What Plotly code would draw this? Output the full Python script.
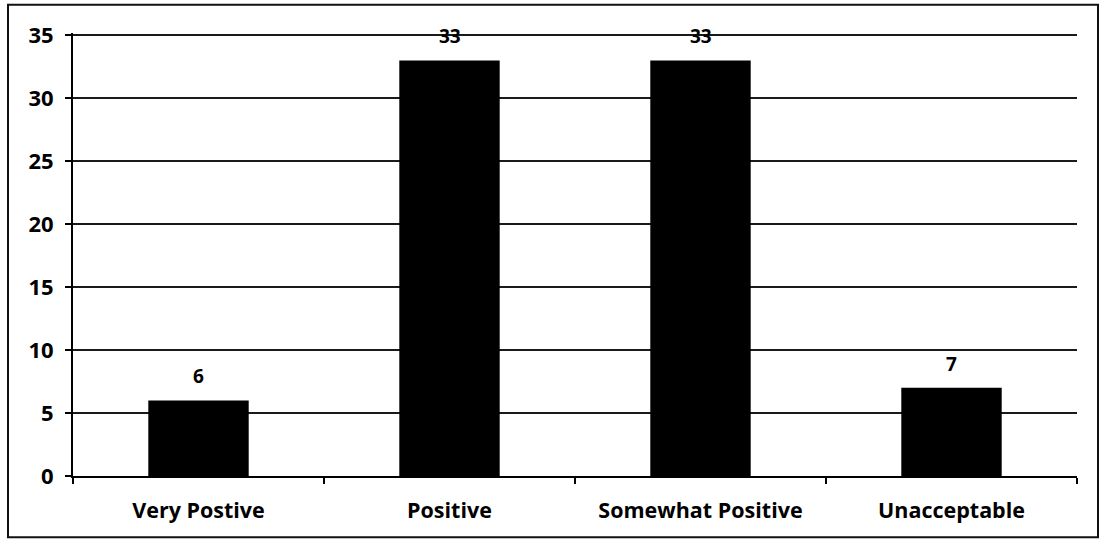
import plotly.graph_objects as go

# Survey responses per rating category
categories = ["Very Postive", "Positive", "Somewhat Positive", "Unacceptable"]
counts = [6, 33, 33, 7]
y_ticks = [0, 5, 10, 15, 20, 25, 30, 35]

FONT = "'Open Sans', Lato, sans-serif"

fig = go.Figure(
    go.Bar(
        x=categories,
        y=counts,
        marker=dict(color="#000000", line=dict(width=0)),
        showlegend=False,
        hoverinfo="x+y",
    )
)

# Value labels above each bar
for cat, val in zip(categories, counts):
    fig.add_annotation(
        x=cat, y=val, xref="x", yref="y",
        text=f"<b>{val}</b>", showarrow=False,
        yshift=24, font=dict(family=FONT, size=19, color="#000000"),
    )

# Outer chart frame
fig.add_shape(
    type="rect", xref="paper", yref="paper",
    x0=(8 - 73) / 1004, x1=(1098 - 73) / 1004,
    y0=(476 - 537) / 441, y1=(476 - 7) / 441,
    line=dict(color="#111111", width=2), fillcolor="rgba(0,0,0,0)",
    layer="below",
)

fig.update_layout(
    width=1108, height=543,
    margin=dict(l=73, r=31, t=33, b=67),
    paper_bgcolor="#ffffff", plot_bgcolor="#ffffff",
    bargap=0.6,
    font=dict(family=FONT, color="#000000"),
    xaxis=dict(
        showline=True, linecolor="#000000", linewidth=2,
        ticks="outside", tickson="boundaries", ticklen=6, tickwidth=2, tickcolor="#000000",
        tickfont=dict(family=FONT, size=21.5, color="#000000", weight="bold"),
        ticklabelstandoff=14,
        showgrid=False, zeroline=False,
    ),
    yaxis=dict(
        range=[0, 35.18], tickvals=y_ticks,
        showline=True, linecolor="#000000", linewidth=2,
        ticks="outside", ticklen=6, tickwidth=2, tickcolor="#000000",
        tickfont=dict(family=FONT, size=22, color="#000000", weight="bold"),
        ticklabelstandoff=7,
        showgrid=True, gridcolor="#1a1a1a", gridwidth=1.5,
        zeroline=False,
    ),
)

fig.write_html("out.html")
